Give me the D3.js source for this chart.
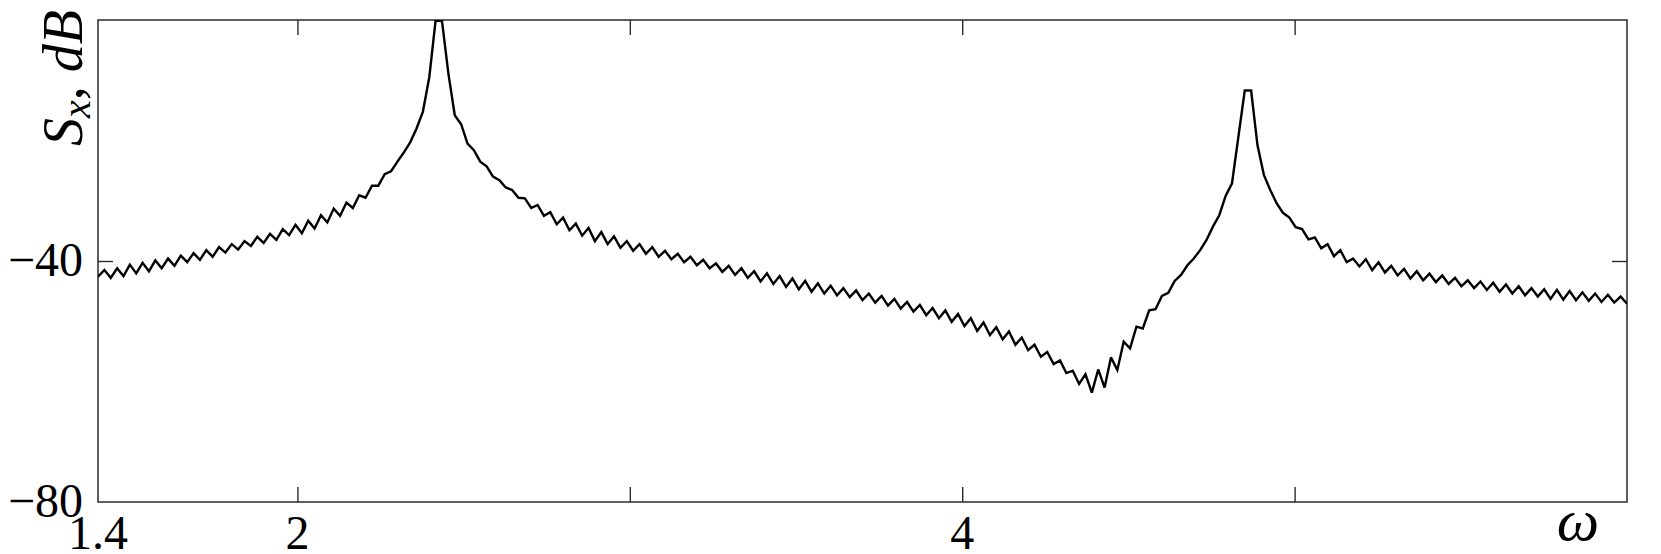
<!DOCTYPE html>
<html><head><meta charset="utf-8">
<script src="https://cdn.jsdelivr.net/npm/d3@7"></script>
<style>html,body{margin:0;padding:0;background:#fff;} svg{display:block}</style>
</head><body><svg id="chart" width="1661" height="554"></svg>
<script>
// ---- data ----
const omegaStart = 1.4;
const omegaEnd = 6.0;
const sxDb = [
  -42.6, -41.5, -42.8, -41.2, -42.5, -40.6, -42.05, -40.3, -41.7, -39.9,
  -41.2, -39.6, -40.8, -39.1, -40.2, -38.7, -39.8, -38.2, -39.3, -37.7,
  -38.6, -37.2, -38.1, -36.7, -37.5, -36.0, -37.0, -35.5, -36.5, -34.7,
  -35.7, -34.0, -35.4, -33.3, -34.6, -32.4, -33.6, -31.3, -32.5, -30.3,
  -31.2, -29.1, -29.5, -27.5, -27.5, -25.6, -25.1, -23.5, -22.0, -20.3,
  -18.0, -15.2, -9.5, 0, -0.2,
  -8.9, -15.8, -17.3, -20.5, -21.6, -23.5, -24.3, -26.0, -26.6, -27.8,
  -28.2, -29.5, -29.6, -31.2, -30.7, -32.5, -31.9, -33.9, -32.8, -34.9,
  -33.8, -35.8, -34.5, -36.7, -35.2, -37.2, -35.9, -37.8, -36.7, -38.3,
  -37.2, -38.8, -37.7, -39.3, -38.3, -39.7, -38.8, -40.2, -39.3, -40.7,
  -39.8, -41.2, -40.4, -41.8, -40.8, -42.3, -41.2, -42.8, -41.7, -43.4,
  -42.05, -43.8, -42.5, -44.3, -42.9, -44.7, -43.3, -45.1, -43.7, -45.4,
  -44.1, -45.7, -44.5, -46.0, -44.9, -46.5, -45.4, -46.9, -45.8, -47.4,
  -46.3, -47.9, -46.8, -48.4, -47.3, -49.0, -47.8, -49.5, -48.2, -50.1,
  -48.8, -50.8, -49.5, -51.6, -50.2, -52.3, -51.0, -53.0, -51.7, -53.9,
  -52.7, -54.8, -53.9, -55.9, -55.1, -57.1, -56.5, -58.6, -58.2, -60.4,
  -58.8,
  -61.85, -58.0, -61.0, -56.0, -58.1, -53.4, -54.5, -50.9, -51.2, -48.2,
  -48.0, -45.8, -45.3, -43.3, -42.3, -40.7, -39.6, -38.2, -36.5, -34.3,
  -32.4, -29.2, -27.1, -19.4, -11.7, -11.7, -20.8, -25.7, -28.2, -30.4,
  -32.0, -32.8,
  -34.4, -34.7, -36.4, -36.1, -37.9, -37.2, -39.2, -38.2, -40.2, -39.6,
  -40.9, -39.7, -41.5, -40.2, -41.9, -40.8, -42.4, -41.3, -42.9, -41.7,
  -43.2, -42.1, -43.5, -42.4, -43.8, -42.8, -44.2, -43.2, -44.5, -43.4,
  -44.8, -43.6, -45.1, -43.9, -45.4, -44.2, -45.7, -44.5, -45.9, -44.7,
  -46.3, -44.8, -46.4, -45.0, -46.5, -45.2, -46.6, -45.4, -46.8, -45.6,
  -46.9, -45.9, -47.1
];
const xDomain = [1.4, 6.0];
const yDomain = [-80, 0];
const xTickValues = [2, 3, 4, 5];
const xLabelValues = [1.4, 2, 4];
const xLabelTexts = ["1.4", "2", "4"];
const yTickValues = [-40];
const yLabelValues = [-40, -80];
const yLabelTexts = ["\u221240", "\u221280"];
const xAxisTitle = "\u03C9";

// ---- layout ----
const W = 1661, H = 554;
const m = {left: 98, right: 34, top: 20, bottom: 52};
const svg = d3.select("#chart");
const x = d3.scaleLinear().domain(xDomain).range([m.left, W - m.right]);
const y = d3.scaleLinear().domain(yDomain).range([H - m.bottom, m.top]);
const FONT = "'Liberation Serif', 'DejaVu Serif', serif";
const frameColor = "#2a2a2a";

// sampling grid of the spectrum (uniform in omega)
const step = (omegaEnd - omegaStart) / (sxDb.length - 1);
const points = sxDb.map((v, i) => [omegaStart + i * step, v]);

svg.append("defs").append("clipPath").attr("id", "clip")
  .append("rect").attr("x", m.left).attr("y", m.top)
  .attr("width", W - m.left - m.right).attr("height", H - m.top - m.bottom);

// ticks (inward) on all four sides
const tickLen = 15;
function styleAxis(g) {
  g.select(".domain").remove();
  g.selectAll(".tick line").attr("stroke", frameColor).attr("stroke-width", 1.4);
  g.selectAll(".tick text").remove();
}
svg.append("g").attr("transform", `translate(0,${H - m.bottom})`)
  .call(d3.axisBottom(x).tickValues(xTickValues).tickSize(-tickLen)).call(styleAxis);
svg.append("g").attr("transform", `translate(0,${m.top})`)
  .call(d3.axisTop(x).tickValues(xTickValues).tickSize(-tickLen)).call(styleAxis);
svg.append("g").attr("transform", `translate(${m.left},0)`)
  .call(d3.axisLeft(y).tickValues(yTickValues).tickSize(-tickLen)).call(styleAxis);
svg.append("g").attr("transform", `translate(${W - m.right},0)`)
  .call(d3.axisRight(y).tickValues(yTickValues).tickSize(-tickLen)).call(styleAxis);

// frame
svg.append("rect").attr("x", m.left).attr("y", m.top)
  .attr("width", W - m.left - m.right).attr("height", H - m.top - m.bottom)
  .attr("fill", "none").attr("stroke", frameColor).attr("stroke-width", 1.5);

// curve
const line = d3.line().x(d => x(d[0])).y(d => y(d[1]));
svg.append("path").datum(points).attr("clip-path", "url(#clip)")
  .attr("d", line).attr("fill", "none").attr("stroke", "#000")
  .attr("stroke-width", 2.4).attr("stroke-linejoin", "miter").attr("stroke-miterlimit", 3);

// tick labels
svg.append("g").selectAll("text").data(xLabelValues).join("text")
  .attr("x", d => x(d)).attr("y", H - m.bottom + 47)
  .attr("text-anchor", "middle").attr("font-family", FONT).attr("font-size", 48)
  .attr("fill", "#000").text((d, i) => xLabelTexts[i]);
svg.append("g").selectAll("text").data(yLabelValues).join("text")
  .attr("x", m.left - 15).attr("y", d => y(d) + 15)
  .attr("text-anchor", "end").attr("font-family", FONT).attr("font-size", 48)
  .attr("fill", "#000").text((d, i) => yLabelTexts[i]);

// axis titles
svg.append("text").attr("x", 1578).attr("y", 540)
  .attr("text-anchor", "middle").attr("font-family", FONT).attr("font-style", "italic")
  .attr("font-size", 60).attr("fill", "#000").text(xAxisTitle);

const yt = svg.append("text").attr("transform", "translate(82,78) rotate(-90)")
  .attr("text-anchor", "middle").attr("font-family", FONT).attr("font-size", 56).attr("fill", "#000");
yt.append("tspan").attr("font-style", "italic").text("S");
yt.append("tspan").attr("font-style", "italic").attr("font-size", 40).attr("dy", 8).text("x");
yt.append("tspan").attr("dy", -8).text(", ");
yt.append("tspan").attr("font-style", "italic").text("dB");
</script></body></html>
